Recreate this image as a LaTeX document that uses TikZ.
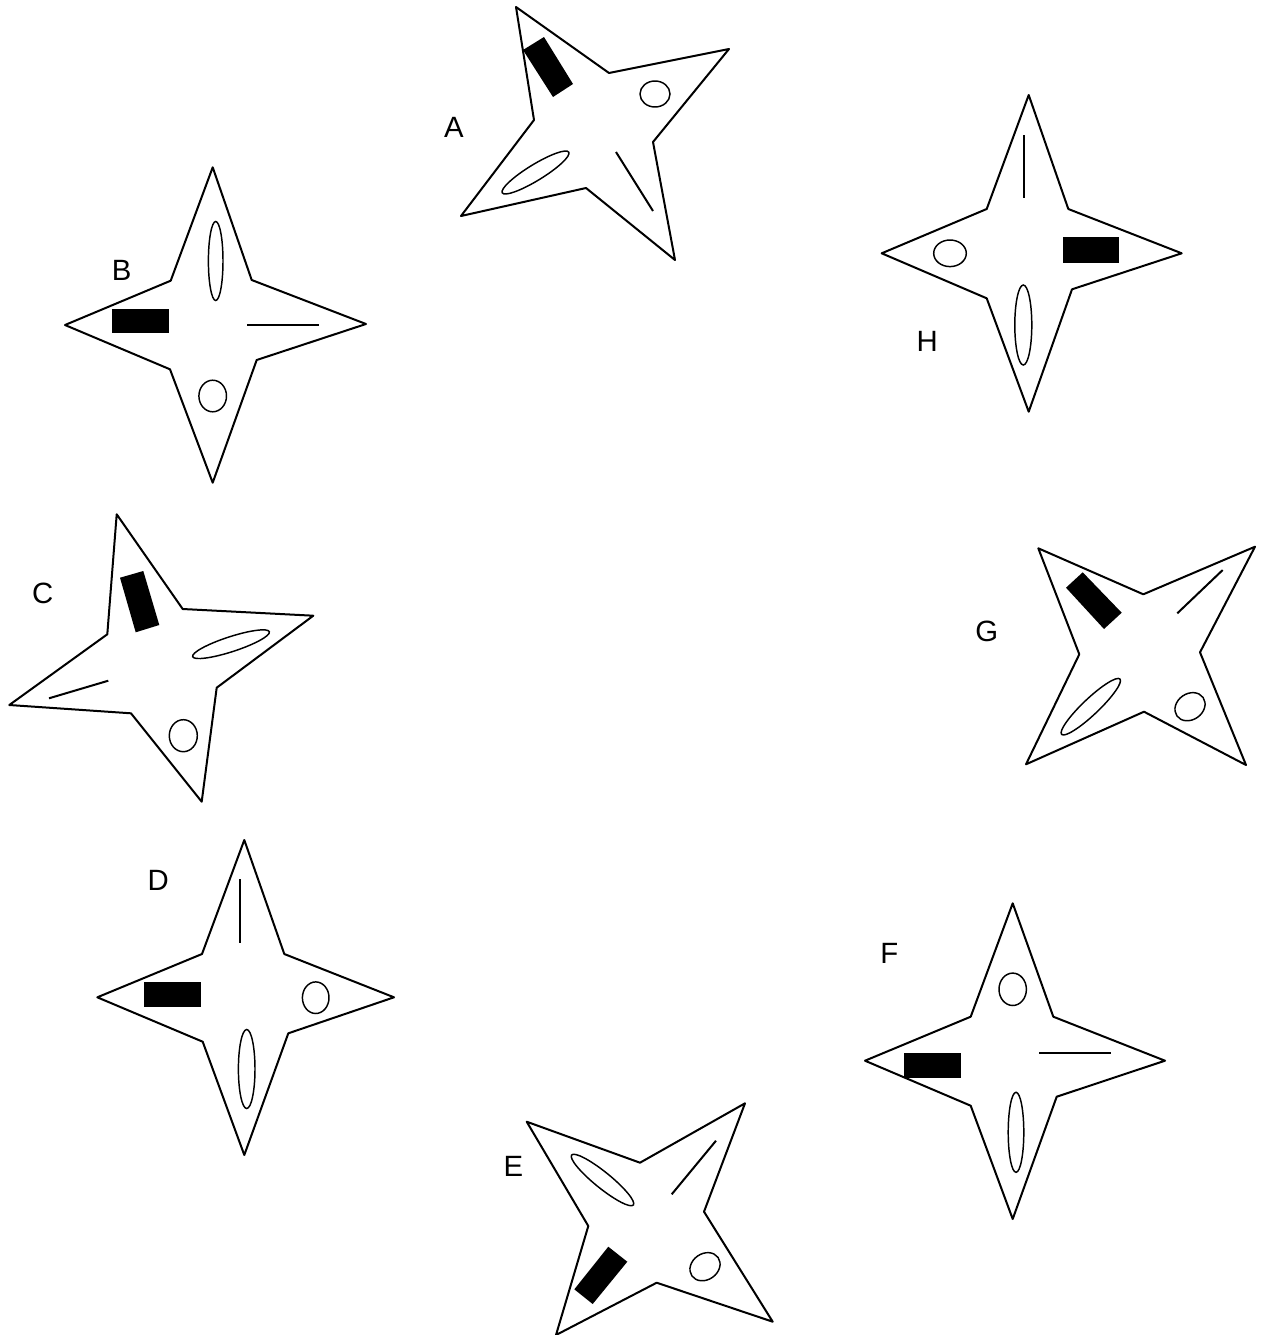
\documentclass[tikz,border=0pt]{standalone}
\usepackage{fontspec}
\setmainfont{Liberation Sans}
\begin{document}
\begin{tikzpicture}[x=0.75pt,y=-0.75pt,
  starshape/.style={draw=black,line width=1.5pt,line join=round},
  blockmark/.style={fill=black,draw=none},
  ovalmark/.style={draw=black,line width=1.1pt},
  barmark/.style={draw=black,line width=1.5pt},
  lbl/.style={font=\fontsize{22}{26}\selectfont,inner sep=0pt}]
\useasboundingbox (0,0) rectangle (1265,1335);
% ---------- A ----------
\draw[starshape] (516,7) -- (609,73) -- (729,49) -- (653,142) -- (675,260) -- (586,188) -- (461,216) -- (534,120) -- cycle;
\fill[blockmark] (523,50) -- (544,37) -- (573,84) -- (553,97) -- cycle;
\draw[ovalmark] (655,94) ellipse [x radius=15, y radius=13];
\draw[ovalmark, rotate around={31.5:(535.5,172.5)}] (535.5,172.5) ellipse [x radius=39, y radius=8];
\draw[barmark] (616,152) -- (653,211);
\node[lbl] (la) at (454,127) {A};
% ---------- B ----------
\draw[starshape] (212.7,167.3) -- (251.7,280) -- (366,324) -- (256.7,360) -- (212.7,482.7) -- (170,369.3) -- (65,325) -- (170.7,280.7) -- cycle;
\fill[blockmark] (112.3,309) rectangle (169,333.3);
\draw[ovalmark] (215.7,261) ellipse [x radius=7.3, y radius=39.5];
\draw[ovalmark] (212.7,396) ellipse [x radius=13.8, y radius=15.8];
\draw[barmark] (247.3,324.7) -- (318.7,324.7);
\node[lbl] (lb) at (121.7,270) {B};
% ---------- C ----------
\draw[starshape] (116.7,514.3) -- (182.7,609) -- (313.3,615.7) -- (216.7,687.7) -- (201.7,801.7) -- (131,713.3) -- (9.3,705) -- (107.3,634.3) -- cycle;
\fill[blockmark] (120,577.7) -- (143.3,571) -- (159.3,625) -- (135.7,632.3) -- cycle;
\draw[ovalmark, rotate around={18:(231,644.2)}] (231,644.2) ellipse [x radius=40.3, y radius=7.5];
\draw[barmark] (49,698.3) -- (108.3,680.7);
\draw[ovalmark] (183.3,735.7) ellipse [x radius=14, y radius=16];
\node[lbl] (lc) at (42.7,593.3) {C};
% ---------- D ----------
\draw[starshape] (244.3,840) -- (284.3,954) -- (394,997.3) -- (288.3,1033.3) -- (244.3,1155) -- (202.7,1041.7) -- (97.3,997.3) -- (202,954) -- cycle;
\draw[barmark] (240,879.3) -- (240,942.7);
\fill[blockmark] (144,981.7) rectangle (200.7,1006.7);
\draw[ovalmark] (315.7,997.7) ellipse [x radius=13.3, y radius=15.8];
\draw[ovalmark] (246.7,1069) ellipse [x radius=8.3, y radius=39.5];
\node[lbl] (ld) at (158.3,880) {D};
% ---------- E ----------
\draw[starshape] (526.7,1121.7) -- (640,1162.7) -- (745,1103.3) -- (704,1211.7) -- (772.7,1321.7) -- (656.7,1282.7) -- (556,1335) -- (588.3,1226) -- cycle;
\draw[ovalmark, rotate around={-39:(602.5,1180)}] (602.5,1180) ellipse [x radius=39.7, y radius=8];
\draw[barmark] (671.7,1194.3) -- (716,1140.7);
\fill[blockmark] (574.3,1289.3) -- (608.3,1246.7) -- (627.3,1261.7) -- (592.7,1304) -- cycle;
\draw[ovalmark, rotate around={35:(705,1266.7)}] (705,1266.7) ellipse [x radius=16, y radius=13];
\node[lbl] (le) at (513.3,1166.7) {E};
% ---------- F ----------
\draw[starshape] (1012.7,903.3) -- (1053.3,1016.7) -- (1165,1060.7) -- (1056.7,1096.7) -- (1012.7,1219) -- (970.7,1105.7) -- (865,1060.7) -- (970.7,1016.7) -- cycle;
\draw[ovalmark] (1012.7,989.3) ellipse [x radius=13.7, y radius=16.2];
\fill[blockmark] (904.3,1052.7) rectangle (961,1077.7);
\draw[barmark] (1039.3,1053.3) -- (1111,1053.3);
\draw[ovalmark] (1016,1132.3) ellipse [x radius=7.8, y radius=40];
\node[lbl] (lf) at (889.3,953.3) {F};
% ---------- G ----------
\draw[starshape] (1038.3,548.3) -- (1143.3,594.3) -- (1255,546.7) -- (1200,652.3) -- (1246,765) -- (1144,711.7) -- (1026,764.3) -- (1079.3,654.3) -- cycle;
\fill[blockmark] (1066,587.7) -- (1082.7,572.3) -- (1121.7,612.7) -- (1104,629) -- cycle;
\draw[barmark] (1177.3,613.3) -- (1222.7,570);
\draw[ovalmark, rotate around={43.5:(1090.8,706.7)}] (1090.8,706.7) ellipse [x radius=40.2, y radius=8];
\draw[ovalmark, rotate around={35:(1190,706.7)}] (1190,706.7) ellipse [x radius=16, y radius=13];
\node[lbl] (lg) at (986.7,631) {G};
% ---------- H ----------
\draw[starshape] (1028.7,95) -- (1068.3,209) -- (1181.7,253.3) -- (1072,289.3) -- (1028.7,411.7) -- (986.7,298.3) -- (881.7,253.3) -- (986.7,209) -- cycle;
\draw[barmark] (1024,135) -- (1024,198.3);
\draw[ovalmark] (950,253.3) ellipse [x radius=16.3, y radius=13.3];
\fill[blockmark] (1062.7,237.3) rectangle (1119.3,262.7);
\draw[ovalmark] (1023.3,325) ellipse [x radius=8.5, y radius=40];
\node[lbl] (lh) at (927.3,341.7) {H};
\end{tikzpicture}
\end{document}
